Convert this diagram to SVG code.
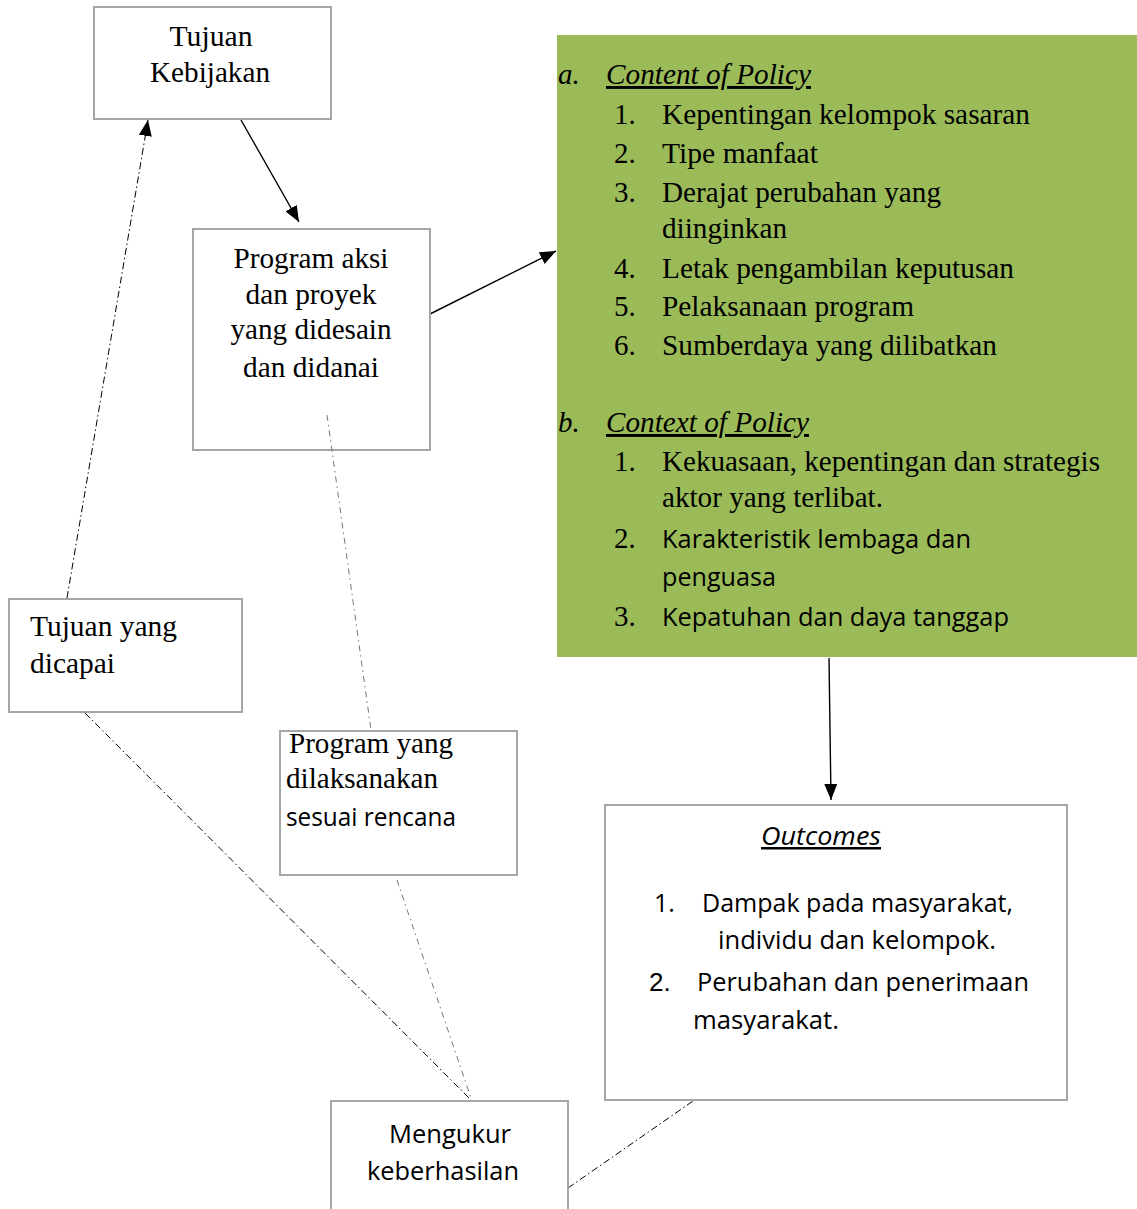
<svg xmlns="http://www.w3.org/2000/svg" width="1137" height="1209" viewBox="0 0 1137 1209">
<style>
.box{fill:#ffffff;stroke:#a6a6a6;stroke-width:2}
.green{fill:#9bbb59;stroke:none}
.serif{font-family:"Liberation Serif","Times New Roman",serif;font-size:29px;fill:#000}
.sans{font-family:"Open Sans","Noto Sans","Liberation Sans",sans-serif;font-size:25px;fill:#000}
.arial{font-family:"Liberation Sans",Arial,sans-serif;font-size:26px;fill:#000}
.it{font-style:italic}
.ul{text-decoration:underline}
.mid{text-anchor:middle}
.solid{stroke:#000;stroke-width:1.4;fill:none}
.dd{stroke:#000;stroke-width:1;fill:none;stroke-dasharray:7 3 1.5 3}
.dg{stroke:#777;stroke-width:1;fill:none;stroke-dasharray:6 4 1.5 4}
</style>
<defs>
<marker id="arr" viewBox="0 0 16 13" refX="16" refY="6.5" markerWidth="16" markerHeight="13" markerUnits="userSpaceOnUse" orient="auto">
<path d="M0,0 L16,6.5 L0,13 z" fill="#000"/>
</marker>
</defs>
<rect width="1137" height="1209" fill="#ffffff"/>

<g id="connectors">
<line class="solid" x1="241" y1="120" x2="299" y2="222" marker-end="url(#arr)"/>
<line class="solid" x1="430" y1="314" x2="556" y2="251" marker-end="url(#arr)"/>
<line class="solid" x1="829" y1="658" x2="831" y2="800" marker-end="url(#arr)"/>
<line class="dd" x1="67" y1="598" x2="148" y2="120" marker-end="url(#arr)"/>
<line class="dd" x1="85" y1="713" x2="472" y2="1101"/>
<line class="dd" x1="568" y1="1188" x2="693" y2="1101"/>
</g>

<g id="node-tujuan-kebijakan">
<rect class="box" x="94" y="7" width="237" height="112"/>
<text class="serif mid" x="211" y="46" textLength="83" lengthAdjust="spacingAndGlyphs">Tujuan</text>
<text class="serif mid" x="210" y="82" textLength="120" lengthAdjust="spacingAndGlyphs">Kebijakan</text>
</g>

<g id="node-program-aksi">
<rect class="box" x="193" y="229" width="237" height="221"/>
<text class="serif mid" x="311" y="268" textLength="155" lengthAdjust="spacingAndGlyphs">Program aksi</text>
<text class="serif mid" x="311" y="304" textLength="131" lengthAdjust="spacingAndGlyphs">dan proyek</text>
<text class="serif mid" x="311" y="339" textLength="161" lengthAdjust="spacingAndGlyphs">yang didesain</text>
<text class="serif mid" x="311" y="377" textLength="136" lengthAdjust="spacingAndGlyphs">dan didanai</text>
</g>

<g id="connector-dashed-gray">
<line class="dg" x1="327" y1="415" x2="371" y2="730"/>
<line class="dg" x1="397" y1="880" x2="472" y2="1101"/>
</g>

<g id="node-policy">
<rect class="green" x="557" y="35" width="580" height="622"/>
<text class="serif it" x="558" y="84">a.</text>
<text class="serif it ul" x="606" y="84" textLength="205" lengthAdjust="spacingAndGlyphs">Content of Policy</text>
<text class="serif" x="614" y="124">1.</text>
<text class="serif" x="662" y="124" textLength="368" lengthAdjust="spacingAndGlyphs">Kepentingan kelompok sasaran</text>
<text class="serif" x="614" y="163">2.</text>
<text class="serif" x="662" y="163" textLength="156" lengthAdjust="spacingAndGlyphs">Tipe manfaat</text>
<text class="serif" x="614" y="202">3.</text>
<text class="serif" x="662" y="202" textLength="279" lengthAdjust="spacingAndGlyphs">Derajat perubahan yang</text>
<text class="serif" x="662" y="238" textLength="125" lengthAdjust="spacingAndGlyphs">diinginkan</text>
<text class="serif" x="614" y="278">4.</text>
<text class="serif" x="662" y="278" textLength="352" lengthAdjust="spacingAndGlyphs">Letak pengambilan keputusan</text>
<text class="serif" x="614" y="316">5.</text>
<text class="serif" x="662" y="316" textLength="252" lengthAdjust="spacingAndGlyphs">Pelaksanaan program</text>
<text class="serif" x="614" y="355">6.</text>
<text class="serif" x="662" y="355" textLength="335" lengthAdjust="spacingAndGlyphs">Sumberdaya yang dilibatkan</text>
<text class="serif it" x="558" y="432">b.</text>
<text class="serif it ul" x="606" y="432" textLength="203" lengthAdjust="spacingAndGlyphs">Context of Policy</text>
<text class="serif" x="614" y="471">1.</text>
<text class="serif" x="662" y="471" textLength="438" lengthAdjust="spacingAndGlyphs">Kekuasaan, kepentingan dan strategis</text>
<text class="serif" x="662" y="507" textLength="221" lengthAdjust="spacingAndGlyphs">aktor yang terlibat.</text>
<text class="serif" x="614" y="548">2.</text>
<text class="sans" x="662" y="548" textLength="309" lengthAdjust="spacingAndGlyphs">Karakteristik lembaga dan</text>
<text class="sans" x="662" y="586" textLength="114" lengthAdjust="spacingAndGlyphs">penguasa</text>
<text class="serif" x="614" y="626">3.</text>
<text class="sans" x="662" y="626" textLength="347" lengthAdjust="spacingAndGlyphs">Kepatuhan dan daya tanggap</text>
</g>

<g id="node-tujuan-dicapai">
<rect class="box" x="9" y="599" width="233" height="113"/>
<text class="serif" x="30" y="636" textLength="147" lengthAdjust="spacingAndGlyphs">Tujuan yang</text>
<text class="serif" x="30" y="673" textLength="85" lengthAdjust="spacingAndGlyphs">dicapai</text>
</g>

<g id="node-program-dilaksanakan">
<rect class="box" x="280" y="731" width="237" height="144"/>
<text class="serif" x="289" y="753" textLength="164" lengthAdjust="spacingAndGlyphs">Program yang</text>
<text class="serif" x="286" y="788" textLength="152" lengthAdjust="spacingAndGlyphs">dilaksanakan</text>
<text class="sans" x="286" y="826" textLength="170" lengthAdjust="spacingAndGlyphs">sesuai rencana</text>
</g>

<g id="node-outcomes">
<rect class="box" x="605" y="805" width="462" height="295"/>
<text class="sans it ul" x="761" y="845" textLength="120" lengthAdjust="spacingAndGlyphs">Outcomes</text>
<text class="sans" x="654" y="912">1.</text>
<text class="sans" x="702" y="912" textLength="311" lengthAdjust="spacingAndGlyphs">Dampak pada masyarakat,</text>
<text class="sans" x="718" y="949" textLength="278" lengthAdjust="spacingAndGlyphs">individu dan kelompok.</text>
<text class="arial" x="649" y="991">2.</text>
<text class="sans" x="697" y="991" textLength="332" lengthAdjust="spacingAndGlyphs">Perubahan dan penerimaan</text>
<text class="sans" x="693" y="1029" textLength="146" lengthAdjust="spacingAndGlyphs">masyarakat.</text>
</g>

<g id="node-mengukur">
<rect class="box" x="331" y="1101" width="237" height="120"/>
<text class="sans" x="389" y="1143" textLength="122" lengthAdjust="spacingAndGlyphs">Mengukur</text>
<text class="sans" x="367" y="1180" textLength="152" lengthAdjust="spacingAndGlyphs">keberhasilan</text>
</g>
</svg>
